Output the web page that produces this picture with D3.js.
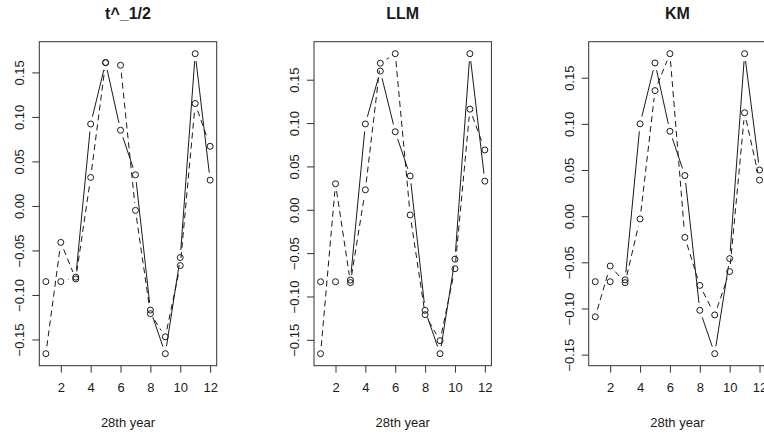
<!DOCTYPE html>
<html>
<head>
<meta charset="utf-8">
<script src="https://cdn.jsdelivr.net/npm/d3@7"></script>
<style>
  body { margin: 0; background: #fff; }
  svg { display: block; font-family: 'Liberation Sans', Arial, sans-serif; }
</style>
</head>
<body>
<div id="chart"></div>
<script>
// month index along the x axis
const months = [1, 2, 3, 4, 5, 6, 7, 8, 9, 10, 11, 12];
const panelTitles = ['t^_1/2', 'LLM', 'KM'];
const xLabel = '28th year';
const xTicks = [2, 4, 6, 8, 10, 12];
const yTicks = [-0.15, -0.10, -0.05, 0.00, 0.05, 0.10, 0.15];

// solid line series, one per panel
const sqrtSolid = [-0.085, -0.085, -0.080, 0.092, 0.161, 0.085, 0.035, -0.117, -0.166, -0.058, 0.171, 0.029];
const llmSolid = [-0.083, -0.083, -0.081, 0.099, 0.160, 0.090, 0.039, -0.116, -0.166, -0.057, 0.180, 0.033];
const kmSolid = [-0.071, -0.071, -0.069, 0.100, 0.166, 0.092, 0.044, -0.102, -0.149, -0.046, 0.176, 0.050];

// dashed line series, one per panel
const sqrtDashed = [-0.166, -0.041, -0.082, 0.032, 0.161, 0.158, -0.005, -0.121, -0.147, -0.067, 0.115, 0.067];
const llmDashed = [-0.166, 0.030, -0.084, 0.023, 0.169, 0.180, -0.006, -0.121, -0.151, -0.068, 0.116, 0.069];
const kmDashed = [-0.109, -0.054, -0.072, -0.003, 0.136, 0.176, -0.023, -0.075, -0.107, -0.060, 0.112, 0.039];

const panels = [
  {title: panelTitles[0], solid: sqrtSolid, dashed: sqrtDashed},
  {title: panelTitles[1], solid: llmSolid, dashed: llmDashed},
  {title: panelTitles[2], solid: kmSolid, dashed: kmDashed},
];

const width = 764;
const height = 436;
const panelStep = 274.7;
const plot = {left: 39.3, width: 177.4, top: 41.7, bottom: 365.7};
const gap = 7.5; // distance lines stop short of each point (like R type="b")
const ink = '#1a1a1a';

const svg = d3.select('#chart').append('svg')
  .attr('width', width)
  .attr('height', height);

svg.append('rect').attr('width', width).attr('height', height).attr('fill', '#fff');

// R pads the data range by 4% on each side
function padded(extent) {
  const pad = (extent[1] - extent[0]) * 0.04;
  return [extent[0] - pad, extent[1] + pad];
}

// segments between consecutive points, cut back by `gap` at both ends
function gappedSegments(pts) {
  const segs = [];
  for (let i = 1; i < pts.length; i++) {
    const [x0, y0] = pts[i - 1];
    const [x1, y1] = pts[i];
    const dx = x1 - x0;
    const dy = y1 - y0;
    const len = Math.sqrt(dx * dx + dy * dy);
    if (len > 2 * gap) {
      const f = gap / len;
      segs.push([x0 + f * dx, y0 + f * dy, x1 - f * dx, y1 - f * dy]);
    }
  }
  return segs;
}

panels.forEach((p, i) => {
  const left = plot.left + i * panelStep;
  const right = left + plot.width;
  const g = svg.append('g');

  const xScale = d3.scaleLinear()
    .domain(padded(d3.extent(months)))
    .range([left, right]);
  const yScale = d3.scaleLinear()
    .domain(padded(d3.extent([...p.solid, ...p.dashed])))
    .range([plot.bottom, plot.top]);

  // series
  [{vals: p.solid, dash: null}, {vals: p.dashed, dash: '6,4'}].forEach((s) => {
    const pts = s.vals.map((v, j) => [xScale(months[j]), yScale(v)]);
    g.append('g').selectAll('line')
      .data(gappedSegments(pts))
      .join('line')
      .attr('x1', (d) => d[0]).attr('y1', (d) => d[1])
      .attr('x2', (d) => d[2]).attr('y2', (d) => d[3])
      .attr('stroke', ink)
      .attr('stroke-width', 1)
      .attr('stroke-dasharray', s.dash);
    g.append('g').selectAll('circle')
      .data(pts)
      .join('circle')
      .attr('cx', (d) => d[0])
      .attr('cy', (d) => d[1])
      .attr('r', 3)
      .attr('fill', 'none')
      .attr('stroke', ink)
      .attr('stroke-width', 1);
  });

  // box
  g.append('rect')
    .attr('x', left).attr('y', plot.top)
    .attr('width', plot.width).attr('height', plot.bottom - plot.top)
    .attr('fill', 'none')
    .attr('stroke', '#333')
    .attr('stroke-width', 1);

  // x axis
  const xAxis = d3.axisBottom(xScale).tickValues(xTicks).tickSize(7).tickPadding(10);
  const xg = g.append('g').attr('transform', `translate(0,${plot.bottom})`).call(xAxis);
  xg.select('.domain').remove();
  xg.selectAll('line').attr('stroke', '#333');
  xg.selectAll('text').attr('font-size', 13).attr('fill', ink).attr('font-family', null);

  // y axis, labels rotated like R's default las=0
  const yAxis = d3.axisLeft(yScale).tickValues(yTicks).tickSize(7).tickFormat(d3.format('.2f'));
  const yg = g.append('g').attr('transform', `translate(${left},0)`).call(yAxis);
  yg.select('.domain').remove();
  yg.selectAll('line').attr('stroke', '#333');
  yg.selectAll('text')
    .attr('x', 0).attr('dy', null)
    .attr('transform', 'translate(-15,0) rotate(-90)')
    .attr('text-anchor', 'middle')
    .attr('font-size', 13)
    .attr('fill', ink)
    .attr('font-family', null);

  // title and axis label
  const mid = (left + right) / 2;
  g.append('text')
    .attr('x', mid).attr('y', 19)
    .attr('text-anchor', 'middle')
    .attr('font-size', 16)
    .attr('font-weight', 'bold')
    .attr('fill', ink)
    .text(p.title);
  g.append('text')
    .attr('x', mid).attr('y', 427)
    .attr('text-anchor', 'middle')
    .attr('font-size', 13)
    .attr('fill', ink)
    .text(xLabel);
});
</script>
</body>
</html>
